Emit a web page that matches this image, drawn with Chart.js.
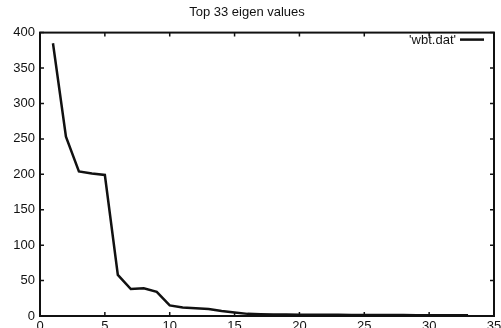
<!DOCTYPE html>
<html>
<head>
<meta charset="utf-8">
<script src="https://cdn.jsdelivr.net/npm/chart.js@4.4.1/dist/chart.umd.min.js"></script>
<style>
  html, body { margin: 0; padding: 0; background: #fff; }
  #wrap { width: 501px; height: 328px; }
</style>
</head>
<body>
<div id="wrap"><canvas id="chart"></canvas></div>
<script>
const xValues = [1, 2, 3, 4, 5, 6, 7, 8, 9, 10, 11, 12, 13, 14, 15, 16, 17,
    18, 19, 20, 21, 22, 23, 24, 25, 26, 27, 28, 29, 30, 31, 32, 33];
const eigenValues = [385, 253, 204, 201, 199, 58, 38, 39, 34, 15, 12, 11, 10, 7, 5, 3, 2.5,
    2.2, 2, 1.9, 1.8, 1.7, 1.6, 1.5, 1.5, 1.4, 1.3, 1.3, 1.2, 1.2, 1.1, 1.1, 1];
const xTicks = [0, 5, 10, 15, 20, 25, 30, 35];
const yTicks = [0, 50, 100, 150, 200, 250, 300, 350, 400];
const seriesLabel = "'wbt.dat'";

const ink = '#111';
const font = "'Liberation Sans', Arial, sans-serif";

// gnuplot style frame: box around plot area with inward ticks on all sides,
// plus the key in the top right corner
const framePlugin = {
    id: 'frame',
    afterDatasetsDraw(chart) {
        const { ctx, chartArea: a, scales } = chart;
        ctx.save();
        ctx.strokeStyle = ink;
        ctx.lineWidth = 2;
        ctx.strokeRect(a.left, a.top, a.right - a.left, a.bottom - a.top);
        ctx.lineWidth = 1.5;
        ctx.beginPath();
        xTicks.forEach(v => {
            const px = scales.x.getPixelForValue(v);
            ctx.moveTo(px, a.bottom); ctx.lineTo(px, a.bottom - 4);
            ctx.moveTo(px, a.top); ctx.lineTo(px, a.top + 4);
        });
        yTicks.forEach(v => {
            const py = scales.y.getPixelForValue(v);
            ctx.moveTo(a.left, py); ctx.lineTo(a.left + 4, py);
            ctx.moveTo(a.right, py); ctx.lineTo(a.right - 4, py);
        });
        ctx.stroke();

        // key
        ctx.fillStyle = ink;
        ctx.font = '13px ' + font;
        ctx.textAlign = 'right';
        ctx.textBaseline = 'alphabetic';
        ctx.fillText(seriesLabel, a.right - 38, a.top + 11);
        ctx.lineWidth = 2.5;
        ctx.beginPath();
        ctx.moveTo(a.right - 34, a.top + 7);
        ctx.lineTo(a.right - 10, a.top + 7);
        ctx.stroke();
        ctx.restore();
    }
};

new Chart(document.getElementById('chart'), {
    type: 'line',
    data: {
        datasets: [{
            label: seriesLabel,
            data: xValues.map((x, i) => ({ x: x, y: eigenValues[i] })),
            borderColor: ink,
            borderWidth: 2.5,
            pointRadius: 0,
            tension: 0,
            fill: false
        }]
    },
    options: {
        responsive: true,
        maintainAspectRatio: false,
        animation: false,
        layout: {
            padding: { left: 0, right: 7, top: 0, bottom: 0 }
        },
        scales: {
            x: {
                type: 'linear',
                min: 0,
                max: 35,
                afterBuildTicks: s => { s.ticks = xTicks.map(v => ({ value: v })); },
                afterFit: s => { s.height = 12; s.paddingLeft = 0; s.paddingRight = 0; },
                grid: { display: false, drawTicks: false },
                border: { display: false },
                ticks: {
                    color: ink,
                    padding: 3,
                    maxRotation: 0,
                    autoSkip: false,
                    font: { family: font, size: 13 }
                }
            },
            y: {
                type: 'linear',
                min: 0,
                max: 400,
                afterBuildTicks: s => { s.ticks = yTicks.map(v => ({ value: v })); },
                afterFit: s => { s.width = 40; s.paddingTop = 0; s.paddingBottom = 0; },
                grid: { display: false, drawTicks: false },
                border: { display: false },
                ticks: {
                    color: ink,
                    padding: 5,
                    font: { family: font, size: 13 }
                }
            }
        },
        plugins: {
            title: {
                display: true,
                text: 'Top 33 eigen values',
                color: ink,
                font: { family: font, size: 13, weight: 'normal' },
                padding: { top: 5, bottom: 12 }
            },
            legend: { display: false },
            tooltip: { enabled: false }
        }
    },
    plugins: [framePlugin]
});
</script>
</body>
</html>
